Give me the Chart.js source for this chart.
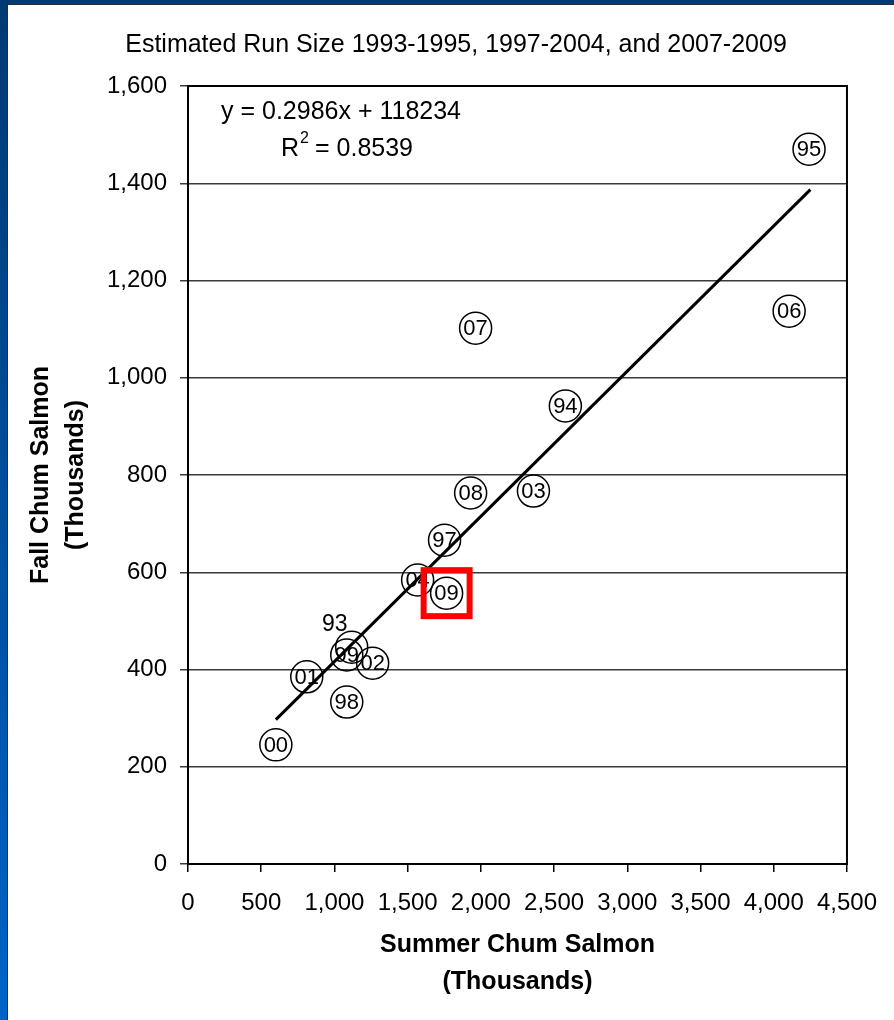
<!DOCTYPE html>
<html>
<head>
<meta charset="utf-8">
<script src="https://cdn.jsdelivr.net/npm/chart.js@4.4.1/dist/chart.umd.min.js"></script>
<style>
  body { margin: 0; background: #fff; }
  #wrap { position: relative; width: 894px; height: 1020px; overflow: hidden; }
  #top { position: absolute; left: 0; top: 0; width: 894px; height: 4px; background: #003a72; border-bottom: 1px solid #2a2f38; }
  #left { position: absolute; left: 0; top: 0; width: 7px; height: 1020px;
          background: linear-gradient(#003a72, #0064c8); border-right: 1px solid #1c2c44; }
</style>
</head>
<body>
<div id="wrap">
  <canvas id="chart" width="894" height="1020"></canvas>
  <div id="top"></div>
  <div id="left"></div>
</div>
<script>
const years  = ['93', '94', '95', '97', '98', '99', '00', '01', '02', '03', '04', '06', '07', '08', '09'];
const summer = [1118, 2577, 4241, 1752, 1084, 1084, 600, 811, 1261, 2359, 1568, 4105, 1964, 1930, 1766];
const fall   = [446, 942, 1470, 666, 333, 430, 245, 385, 413, 767, 584, 1137, 1102, 763, 557];

// trend line end points as drawn
const trendX = [600, 4250];
const trendY = [297, 1387];

const xTicks = [0, 500, 1000, 1500, 2000, 2500, 3000, 3500, 4000, 4500];
const yTicks = [0, 200, 400, 600, 800, 1000, 1200, 1400, 1600];

const highlightYear = '09';
const FONT = '"Liberation Sans", Arial, sans-serif';

const extras = {
  id: 'extras',
  afterDatasetsDraw(chart) {
    const ctx = chart.ctx;
    const a = chart.chartArea;
    const meta = chart.getDatasetMeta(1);
    ctx.save();
    ctx.fillStyle = '#000';
    ctx.textAlign = 'center';
    ctx.textBaseline = 'middle';
    meta.data.forEach((pt, i) => {
      if (years[i] === '93') {
        ctx.font = '23px ' + FONT;
        ctx.fillText(years[i], pt.x - 17, pt.y - 22);
      } else {
        ctx.font = '22px ' + FONT;
        ctx.fillText(years[i], pt.x, pt.y + 1);
      }
    });

    // regression equation
    ctx.textAlign = 'left';
    ctx.font = '25px ' + FONT;
    ctx.fillText('y = 0.2986x + 118234', a.left + 33, a.top + 26);
    ctx.fillText('R', a.left + 93, a.top + 63);
    const rw = ctx.measureText('R').width;
    ctx.fillText(' = 0.8539', a.left + 93 + rw + 9, a.top + 63);
    ctx.font = '16px ' + FONT;
    ctx.fillText('2', a.left + 93 + rw + 1, a.top + 53);

    // highlight box
    const p = meta.data[years.indexOf(highlightYear)];
    ctx.strokeStyle = '#ff0000';
    ctx.lineWidth = 6;
    ctx.strokeRect(p.x - 23, p.y - 23, 46, 46);

    // plot frame
    ctx.strokeStyle = '#000';
    ctx.lineWidth = 2;
    ctx.strokeRect(a.left, a.top, a.width, a.height);
    ctx.restore();
  }
};

new Chart(document.getElementById('chart'), {
  type: 'scatter',
  data: {
    datasets: [{
      type: 'line',
      data: trendX.map((x, i) => ({ x: x, y: trendY[i] })),
      borderColor: '#000',
      borderWidth: 3,
      pointRadius: 0,
      fill: false
    }, {
      data: summer.map((x, i) => ({ x: x, y: fall[i] })),
      pointStyle: 'circle',
      pointRadius: 16,
      pointBorderWidth: 1.5,
      borderColor: '#000',
      backgroundColor: 'rgba(0,0,0,0)'
    }]
  },
  options: {
    responsive: false,
    animation: false,
    devicePixelRatio: 1,
    layout: { padding: { left: 18, right: 0, top: 0, bottom: 0 } },
    plugins: {
      legend: { display: false },
      tooltip: { enabled: false },
      title: {
        display: true,
        text: 'Estimated Run Size 1993-1995, 1997-2004, and 2007-2009',
        color: '#000',
        font: { family: FONT, size: 25, weight: 'normal', lineHeight: 1.2 },
        padding: { top: 30, bottom: 26 }
      }
    },
    scales: {
      x: {
        type: 'linear',
        min: 0,
        max: 4500,
        afterBuildTicks: s => { s.ticks = xTicks.map(v => ({ value: v })); },
        afterFit: s => { s.height = 156; },
        grid: { drawOnChartArea: false, drawTicks: true, tickLength: 8, color: '#000', lineWidth: 1.5 },
        border: { display: false },
        ticks: {
          color: '#000',
          padding: 17,
          maxRotation: 0,
          font: { family: FONT, size: 24 },
          callback: v => v.toLocaleString('en-US')
        },
        title: {
          display: true,
          text: ['Summer Chum Salmon', '(Thousands)'],
          color: '#000',
          font: { family: FONT, size: 25, weight: 'bold', lineHeight: 1.48 },
          padding: { top: 0, bottom: 19 }
        }
      },
      y: {
        type: 'linear',
        min: 0,
        max: 1600,
        afterBuildTicks: s => { s.ticks = yTicks.map(v => ({ value: v })); },
        afterFit: s => { s.width = 170; },
        grid: { drawTicks: true, tickLength: 8, color: '#3a3a3a', lineWidth: 1.5 },
        border: { display: false },
        ticks: {
          color: '#000',
          padding: 13,
          font: { family: FONT, size: 24 },
          callback: v => v.toLocaleString('en-US')
        },
        title: {
          display: true,
          text: ['Fall Chum Salmon', '(Thousands)'],
          color: '#000',
          font: { family: FONT, size: 25, weight: 'bold', lineHeight: 1.4 },
          padding: { top: 6, bottom: 0 }
        }
      },
      yR: {
        type: 'linear',
        position: 'right',
        display: true,
        afterFit: s => { s.width = 46; },
        grid: { display: false },
        border: { display: false },
        ticks: { display: false }
      }
    }
  },
  plugins: [extras]
});
</script>
</body>
</html>
